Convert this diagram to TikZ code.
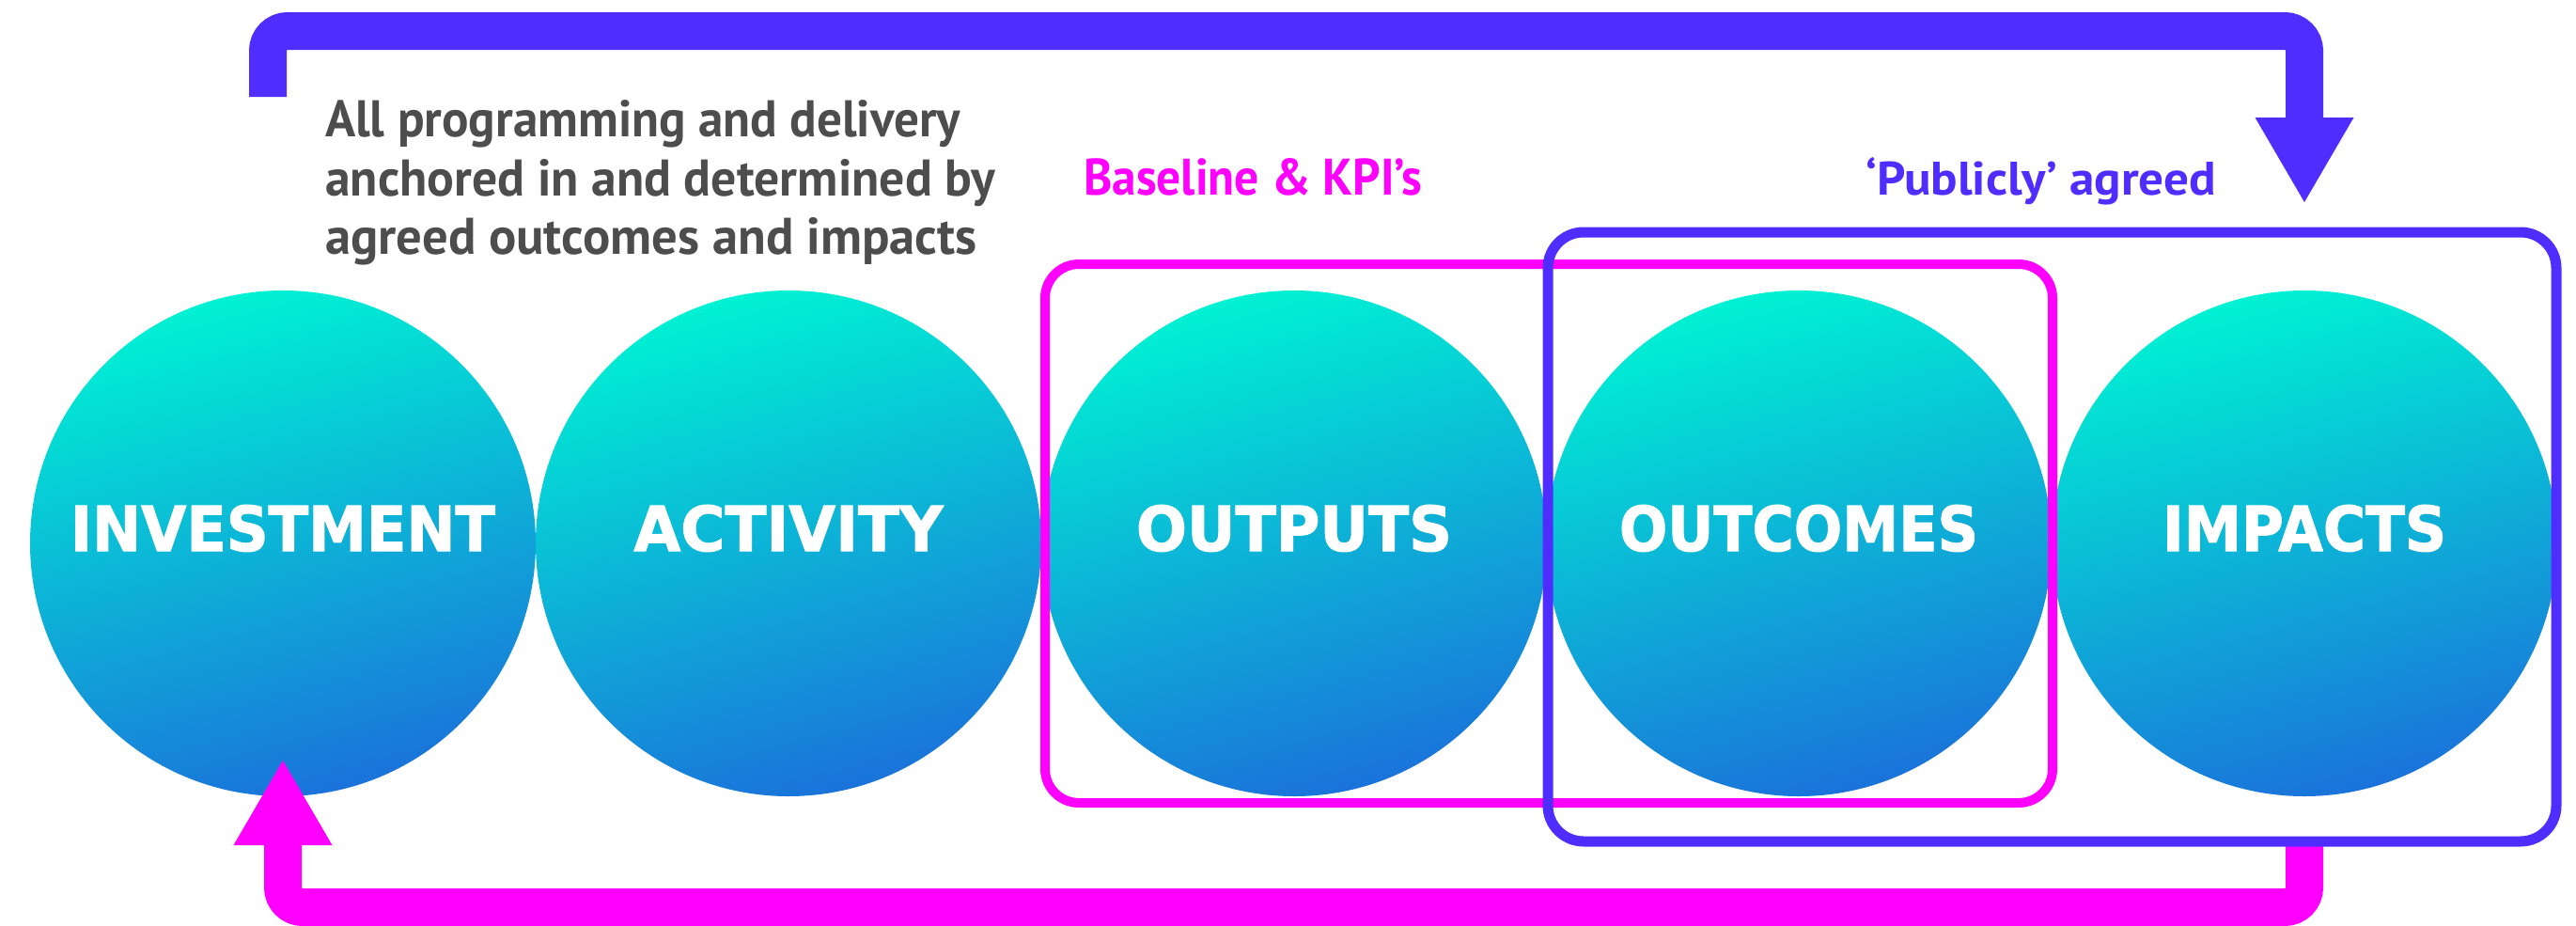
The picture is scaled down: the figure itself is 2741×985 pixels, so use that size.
\documentclass[tikz,border=0pt]{standalone}
\usepackage{fontspec}
\usepackage{graphicx}
\usetikzlibrary{arrows.meta}
\newfontfamily\labfont{PT Sans}
\newfontfamily\circfont{DejaVu Sans}[BoldFeatures={FakeBold=1.6}]
\definecolor{cyanA}{RGB}{0,241,212}
\definecolor{blueB}{RGB}{26,115,218}
\definecolor{pblue}{RGB}{80,45,255}
\definecolor{pmag}{RGB}{255,0,255}
\definecolor{tgray}{RGB}{77,77,77}
\begin{document}
\begin{tikzpicture}[x=1pt,y=-1pt,
  ball/.style={circle, minimum size=538pt, inner sep=0pt, top color=cyanA, bottom color=blueB, shading angle=15, draw=none},
  balltext/.style={anchor=base, text=white, inner sep=0pt, font=\circfont\bfseries},
  lab/.style={anchor=base west, inner sep=0pt, font=\labfont\bfseries},
  flow/.style={line width=40pt, rounded corners=21pt, line cap=butt},
  tipA/.style={-{Triangle[length=90pt,width=105pt,line width=0pt]}}]
\useasboundingbox (0,0) rectangle (2741,985);
% circles
\node[ball] (inv) at (301,578) {};
\node[ball] (act) at (839,578) {};
\node[ball] (outp) at (1377,578) {};
\node[ball] (outc) at (1914,578) {};
\node[ball] (imp) at (2452,578) {};
\node[balltext] (tinv) at ([yshift=-8pt]inv.center) {\resizebox{452pt}{49pt}{INVESTMENT}};
\node[balltext] (tact) at ([yshift=-8pt]act.center) {\resizebox{329pt}{49pt}{ACTIVITY}};
\node[balltext] (toutp) at ([yshift=-8pt]outp.center) {\resizebox{336pt}{49pt}{OUTPUTS}};
\node[balltext] (toutc) at ([yshift=-8pt]outc.center) {\resizebox{382pt}{49pt}{OUTCOMES}};
\node[balltext] (timp) at ([yshift=-8pt]imp.center) {\resizebox{302pt}{49pt}{IMPACTS}};
% bottom magenta return arrow
\coordinate (bstart) at (2452,892);
\coordinate (bcorner) at (2452,965);
\coordinate (bend) at (301,809);
\draw[flow, pmag, tipA] (bstart) -- (bcorner) -| (bend);
% boxes
\draw[pmag, line width=10pt, rounded corners=36pt] (1112,281) rectangle (2184,854);
\draw[pblue, line width=11pt, rounded corners=38pt] (1647,247) rectangle (2720,895);
% top blue arrow
\coordinate (tstart) at (285,103);
\coordinate (tcorner) at (2452,33);
\coordinate (tend) at (2452,215);
\draw[flow, pblue, tipA] (tstart) |- (tcorner) -- (tend);
% labels
\node[lab, text=tgray] (l1) at (346,145) {\resizebox{676pt}{39pt}{All programming and delivery}};
\node[lab, text=tgray] (l2) at (346,208) {\resizebox{713pt}{39pt}{anchored in and determined by}};
\node[lab, text=tgray] (l3) at (346,270) {\resizebox{693pt}{39pt}{agreed outcomes and impacts}};
\node[lab, text=pmag] (kpi) at (1153,207) {\resizebox{360pt}{39pt}{Baseline \& KPI’s}};
\node[lab, text=pblue] (pub) at (1985,207) {\resizebox{373pt}{40pt}{‘Publicly’ agreed}};
\end{tikzpicture}
\end{document}
